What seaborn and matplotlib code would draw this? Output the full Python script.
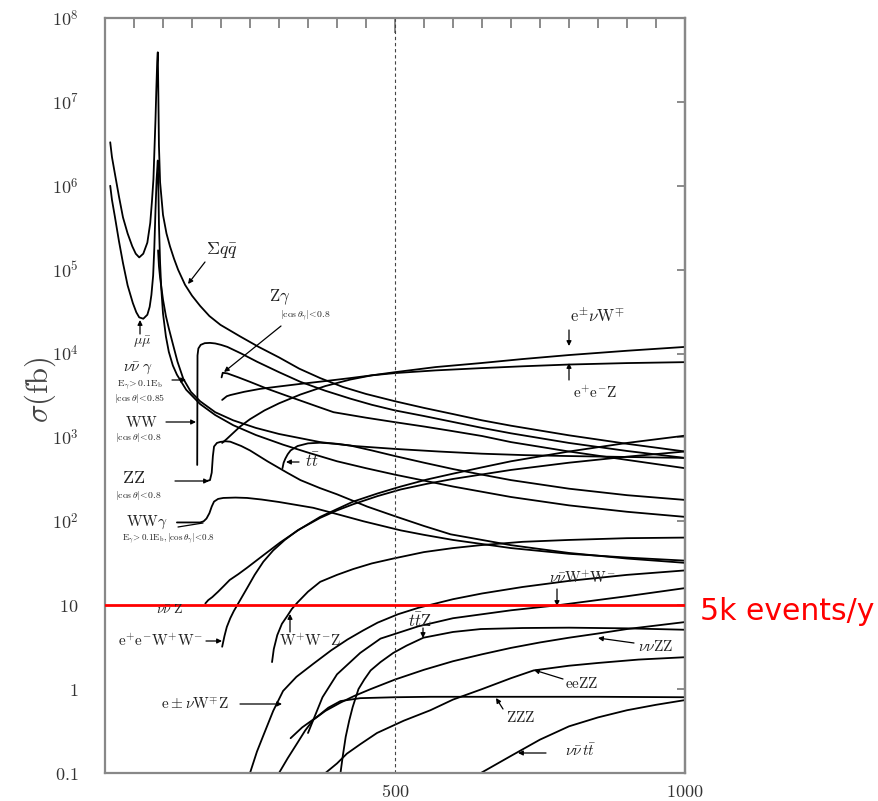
import numpy as np
import pandas as pd
import matplotlib
matplotlib.use("Agg")
import matplotlib.pyplot as plt
from matplotlib.ticker import FixedLocator, MultipleLocator, NullLocator, NullFormatter
import seaborn as sns

sns.set_theme(style="white")
plt.rcParams["font.family"] = ["DejaVu Serif"]
plt.rcParams["mathtext.fontset"] = "cm"

# ---- cross sections: sqrt(s) in GeV, sigma in fb ----
qq_s = [9, 12, 17, 24, 31, 39, 47, 53, 59, 66, 73, 78, 81, 83.5, 85, 87, 88.5, 90, 91, 92, 93, 95, 100, 106, 112, 119, 126, 138, 150, 164, 180, 199, 233, 265, 300, 335, 371, 410, 450, 500, 550, 600, 650, 700, 800, 900, 1000]
qq_sig = [3.3e6, 2.2e6, 1.4e6, 7.5e5, 4.2e5, 2.7e5, 1.9e5, 1.55e5, 1.4e5, 1.55e5, 2.1e5, 3.6e5, 6.6e5, 1.2e6, 2.4e6, 6.0e6, 1.4e7, 3.0e7, 3.9e7, 1.2e7, 3.0e6, 1.1e6, 4.5e5, 2.7e5, 1.9e5, 1.35e5, 1.0e5, 6.6e4, 4.9e4, 3.7e4, 2.8e4, 2.2e4, 1.6e4, 1.2e4, 9.0e3, 6.6e3, 5.1e3, 4.0e3, 3.3e3, 2.7e3, 2.25e3, 1.9e3, 1.6e3, 1.38e3, 1.06e3, 840, 680]

mumu_s = [9, 12, 17, 24, 31, 39, 48, 54, 59, 66, 73, 77, 80, 83, 85, 87, 89, 91, 92, 93, 95, 97, 100, 105, 110, 117, 124, 140, 164, 190, 221, 260, 307, 350, 400, 450, 500, 600, 700, 800, 900, 1000]
mumu_sig = [1.0e6, 6.8e5, 4.3e5, 2.2e5, 1.2e5, 6.5e4, 4.0e4, 3.1e4, 2.7e4, 2.6e4, 2.9e4, 3.6e4, 5.0e4, 8.5e4, 1.8e5, 5.0e5, 1.2e6, 2.0e6, 1.0e6, 3.5e5, 1.2e5, 6.0e4, 3.0e4, 1.6e4, 1.05e4, 7.2e3, 5.6e3, 3.7e3, 2.5e3, 1.85e3, 1.4e3, 1.07e3, 820, 660, 520, 430, 360, 260, 195, 155, 130, 113]

nng_s = [91.5, 93, 95, 100, 105, 110, 117, 125, 135, 148, 164, 190, 221, 260, 300, 371, 430, 500, 575, 650, 725, 800, 900, 1000]
nng_sig = [1.7e5, 1.1e5, 8.0e4, 4.4e4, 2.8e4, 2.0e4, 1.3e4, 8.0e3, 5.0e3, 3.5e3, 2.7e3, 2.0e3, 1.6e3, 1.3e3, 1.1e3, 880, 790, 730, 680, 640, 615, 600, 585, 570]

ww_s = [159, 159.5, 161, 165, 172, 181, 190, 200, 211, 235, 262, 300, 337, 380, 423, 460, 500, 550, 596, 650, 700, 800, 900, 1000]
ww_sig = [470, 9.5e3, 1.15e4, 1.27e4, 1.33e4, 1.34e4, 1.32e4, 1.27e4, 1.2e4, 1.0e4, 8.0e3, 6.0e3, 4.6e3, 3.6e3, 2.9e3, 2.45e3, 2.1e3, 1.8e3, 1.55e3, 1.3e3, 1.12e3, 860, 690, 570]

zg_s = [201, 203, 211, 230, 250, 280, 310, 337, 365, 394, 450, 500, 550, 596, 650, 700, 800, 900, 1000]
zg_sig = [5.2e3, 5.9e3, 5.8e3, 5.2e3, 4.6e3, 3.8e3, 3.2e3, 2.75e3, 2.35e3, 2.0e3, 1.72e3, 1.52e3, 1.35e3, 1.2e3, 1.04e3, 880, 680, 540, 430]

zz_s = [173, 181, 184, 186, 188, 193, 199, 208, 216, 235, 250, 280, 314, 337, 370, 400, 452, 500, 550, 596, 650, 700, 800, 900, 1000]
zz_sig = [300, 310, 380, 600, 780, 860, 885, 900, 890, 790, 700, 520, 380, 310, 250, 210, 150, 115, 88, 70, 60, 52, 42, 36, 32]

tt_s = [306, 308, 311, 315, 320, 332, 350, 371, 400, 423, 460, 500, 550, 600, 650, 700, 800, 900, 1000]
tt_sig = [430, 500, 560, 630, 700, 790, 850, 865, 840, 800, 700, 600, 500, 420, 360, 310, 245, 205, 180]

wwg_s = [124, 164, 170, 175, 180, 184, 188, 195, 204, 225, 245, 270, 300, 359, 400, 446, 510, 550, 600, 700, 800, 900, 1000]
wwg_sig = [97, 97, 100, 108, 125, 150, 172, 185, 190, 192, 190, 182, 170, 145, 122, 100, 78, 69, 60, 48, 41, 37, 34]

enw_s = [202, 210, 216, 233, 250, 275, 300, 337, 380, 423, 460, 500, 570, 648, 720, 800, 900, 1000]
enw_sig = [860, 960, 1.05e3, 1.35e3, 1.65e3, 2.1e3, 2.55e3, 3.25e3, 4.1e3, 4.9e3, 5.5e3, 6.0e3, 6.9e3, 7.7e3, 8.6e3, 9.6e3, 1.08e4, 1.2e4]

eez_s = [202, 210, 216, 240, 268, 300, 337, 380, 423, 460, 500, 570, 648, 720, 800, 900, 1000]
eez_sig = [2.8e3, 3.1e3, 3.2e3, 3.5e3, 3.8e3, 4.05e3, 4.35e3, 4.7e3, 5.1e3, 5.5e3, 5.85e3, 6.3e3, 6.7e3, 7.05e3, 7.4e3, 7.7e3, 7.9e3]

nnz_s = [173, 178, 185, 195, 205, 215, 230, 245, 270, 302, 335, 371, 400, 428, 470, 510, 555, 600, 650, 700, 800, 900, 1000]
nnz_sig = [10.5, 11.5, 12.5, 14.5, 17, 20, 23.5, 28, 38, 56, 80, 113, 140, 172, 215, 260, 315, 370, 440, 520, 680, 860, 1050]

eeww_s = [202, 206, 210, 216, 222, 233, 245, 258, 273, 290, 310, 332, 371, 400, 428, 470, 510, 555, 600, 700, 800, 900, 1000]
eeww_sig = [3.2, 4.3, 5.5, 7.0, 8.5, 11.5, 16, 23, 33, 45, 60, 78, 110, 135, 160, 200, 240, 280, 320, 410, 500, 590, 680]

wwz_s = [288, 291, 297, 305, 314, 322, 332, 350, 371, 400, 428, 460, 497, 550, 600, 648, 720, 800, 900, 1000]
wwz_sig = [2.1, 3.0, 4.4, 6.0, 7.4, 9.0, 10.8, 14.5, 19, 23, 27, 31.5, 36, 43, 48, 52, 57, 60, 63, 64]

nnww_s = [350, 375, 400, 440, 475, 540, 600, 700, 781, 900, 1000]
nnww_sig = [0.3, 0.8, 1.5, 2.7, 4.0, 5.6, 7.0, 8.7, 10, 12.8, 16]

enwz_s = [250, 262, 273, 290, 307, 330, 359, 390, 418, 445, 470, 505, 540, 600, 650, 720, 800, 900, 1000]
enwz_sig = [0.1, 0.18, 0.28, 0.55, 0.95, 1.4, 2.0, 2.9, 3.9, 5.0, 6.2, 7.8, 9.3, 11.8, 13.8, 16.5, 19.5, 23, 26]

ttz_s = [406, 410, 415, 421, 427, 437, 447, 458, 475, 497, 520, 549, 600, 648, 720, 800, 900, 1000]
ttz_sig = [0.1, 0.16, 0.27, 0.42, 0.61, 1.0, 1.3, 1.67, 2.1, 2.7, 3.3, 4.1, 4.8, 5.2, 5.35, 5.4, 5.3, 5.1]

nnzz_s = [300, 315, 332, 345, 359, 380, 406, 430, 458, 500, 550, 600, 650, 700, 750, 800, 850, 900, 1000]
nnzz_sig = [0.1, 0.15, 0.23, 0.32, 0.43, 0.55, 0.69, 0.83, 1.0, 1.3, 1.7, 2.15, 2.6, 3.1, 3.6, 4.1, 4.6, 5.2, 6.3]

eezz_s = [380, 400, 417, 440, 469, 515, 561, 600, 650, 700, 739, 800, 850, 920, 1000]
eezz_sig = [0.1, 0.13, 0.17, 0.22, 0.30, 0.42, 0.56, 0.75, 1.0, 1.35, 1.67, 1.9, 2.05, 2.25, 2.4]

zzz_s = [320, 340, 366, 385, 406, 440, 500, 561, 700, 850, 1000]
zzz_sig = [0.26, 0.35, 0.47, 0.6, 0.72, 0.78, 0.8, 0.81, 0.81, 0.81, 0.8]

nntt_s = [648, 700, 750, 800, 850, 900, 950, 1000]
nntt_sig = [0.1, 0.16, 0.25, 0.36, 0.46, 0.56, 0.65, 0.74]

# rate reference line (10 fb ~ 5k events per year)
events_level = [10]

processes = [
    ("qq", qq_s, qq_sig), ("mumu", mumu_s, mumu_sig), ("nng", nng_s, nng_sig),
    ("ww", ww_s, ww_sig), ("zg", zg_s, zg_sig), ("zz", zz_s, zz_sig),
    ("tt", tt_s, tt_sig), ("wwg", wwg_s, wwg_sig), ("enw", enw_s, enw_sig),
    ("eez", eez_s, eez_sig), ("nnz", nnz_s, nnz_sig), ("eeww", eeww_s, eeww_sig),
    ("wwz", wwz_s, wwz_sig), ("nnww", nnww_s, nnww_sig), ("enwz", enwz_s, enwz_sig),
    ("ttz", ttz_s, ttz_sig), ("nnzz", nnzz_s, nnzz_sig), ("eezz", eezz_s, eezz_sig),
    ("zzz", zzz_s, zzz_sig), ("nntt", nntt_s, nntt_sig),
]
df = pd.concat(
    [pd.DataFrame({"process": n, "sqrt_s": s, "sigma": y}) for n, s, y in processes],
    ignore_index=True,
)

W, H = 879, 801
fig = plt.figure(figsize=(W / 100, H / 100), dpi=100)
ax = fig.add_axes([105 / W, 1 - 773 / H, 580 / W, 755 / H])
ax.set_yscale("log")

sns.lineplot(
    data=df, x="sqrt_s", y="sigma", hue="process",
    palette={n: "black" for n, _, _ in processes},
    estimator=None, sort=False, legend=False, lw=1.3, ax=ax,
)

ax.axhline(events_level[0], color="red", lw=2.0, zorder=5)
ax.axvline(500, color="#444444", lw=0.8, ls=(0, (3, 2.5)))

ax.set_xlim(0, 1000)
ax.set_ylim(0.1, 1e8)
ax.set_xlabel("")
ax.set_ylabel("")

ax.xaxis.set_major_locator(FixedLocator([500, 1000]))
ax.xaxis.set_minor_locator(MultipleLocator(50))
ax.set_xticklabels([r"$500$", r"$1000$"])
yt = [0.1, 1, 10, 1e2, 1e3, 1e4, 1e5, 1e6, 1e7, 1e8]
ax.yaxis.set_major_locator(FixedLocator(yt))
ax.yaxis.set_minor_locator(NullLocator())
ax.set_yticklabels([r"$0.1$", r"$1$", r"$10$"] + [rf"$10^{{{k}}}$" for k in range(2, 9)])
ax.tick_params(which="both", direction="in", top=True, right=False, color="#777777", width=1.2)
ax.tick_params(which="major", length=11, labelsize=13, labelcolor="#333333")
ax.tick_params(which="minor", length=7)
ax.tick_params(axis="y", which="major", pad=19)
ax.tick_params(axis="x", which="major", pad=7)
for sp in ax.spines.values():
    sp.set_color("#888888")
    sp.set_linewidth(1.6)

# short inward ticks along the right frame
rax = ax.secondary_yaxis("right")
rax.yaxis.set_major_locator(FixedLocator(yt))
rax.yaxis.set_minor_locator(NullLocator())
rax.yaxis.set_major_formatter(NullFormatter())
rax.tick_params(direction="in", length=6, width=1.2, color="#777777")
rax.spines["right"].set_color("#888888")
rax.spines["right"].set_linewidth(1.6)

fig.text(40 / W, 1 - 390 / H, r"$\sigma(\mathrm{fb})$", rotation=90, fontsize=22,
         ha="center", va="center", color="#444444")
fig.text(700 / W, 1 - 612 / H, "5k events/y", color="red", fontsize=21.5,
         family="DejaVu Sans", ha="left", va="center")


def P(px, py):
    """pixel position on the canvas -> (sqrt(s), sigma) data position"""
    return ((px - 105) / 580 * 1000, 10 ** (8 - (py - 18) / 755 * 9))


def label(px, py, s, size=11):
    ax.text(*P(px, py), s, fontsize=size, ha="center", va="center", color="#222222", zorder=6)


def arrow(p0, p1, head=True):
    ax.annotate("", xy=P(*p1), xytext=P(*p0),
                arrowprops=dict(arrowstyle="-|>" if head else "-", lw=0.9, color="black",
                                mutation_scale=7, shrinkA=0, shrinkB=0))


label(222, 250, r"$\Sigma q\bar{q}$", 13)
arrow((205, 262), (188, 284))
label(142, 342, r"$\mu\bar{\mu}$", 10)
arrow((140, 334), (140, 320))
label(138, 368, r"$\nu\bar{\nu}\ \gamma$", 11)
label(140, 385, r"$\mathrm{E}_\gamma\!>0.1\mathrm{E}_\mathrm{b}$", 7)
label(140, 398, r"$|\cos\theta|\!<\!0.85$", 7)
arrow((172, 380), (186, 380))
label(142, 422, r"$\mathrm{WW}$", 11)
label(138, 438, r"$|\cos\theta|\!<\!0.8$", 7)
arrow((166, 422), (196, 422))
label(134, 478, r"$\mathrm{ZZ}$", 13)
label(138, 495, r"$|\cos\theta|\!<\!0.8$", 7)
arrow((175, 481), (209, 481))
label(147, 522, r"$\mathrm{WW}\gamma$", 11)
label(168, 538, r"$\mathrm{E}_\gamma\!>0.1\mathrm{E}_\mathrm{b},|\cos\theta_\gamma|\!<\!0.8$", 6.5)
arrow((178, 527), (203, 523), head=False)
label(280, 297, r"$\mathrm{Z}\gamma$", 12)
label(305, 316, r"$|\cos\theta_\gamma|\!<\!0.8$", 7)
arrow((281, 326), (224, 372))
label(312, 462, r"$t\bar{t}$", 12)
arrow((299, 462), (286, 462))
label(597, 316, r"$\mathrm{e}^{\pm}\nu\mathrm{W}^{\mp}$", 12)
arrow((569, 330), (569, 346))
label(595, 393, r"$\mathrm{e}^{+}\mathrm{e}^{-}\mathrm{Z}$", 11)
arrow((569, 380), (569, 363))
label(170, 609, r"$\nu\bar{\nu}\ \mathrm{Z}$", 10)
label(160, 641, r"$\mathrm{e}^{+}\mathrm{e}^{-}\mathrm{W}^{+}\mathrm{W}^{-}$", 11)
arrow((206, 641), (222, 641))
label(310, 641, r"$\mathrm{W}^{+}\mathrm{W}^{-}\mathrm{Z}$", 11)
arrow((290, 632), (290, 614))
label(420, 622, r"$t\bar{t}\mathrm{Z}$", 12)
arrow((423, 628), (423, 638))
label(582, 578, r"$\nu\bar{\nu}\mathrm{W}^{+}\mathrm{W}^{-}$", 11)
arrow((557, 589), (557, 606))
label(655, 646, r"$\nu\nu\mathrm{ZZ}$", 11)
arrow((634, 643), (598, 638))
label(582, 683, r"$\mathrm{eeZZ}$", 11)
arrow((563, 679), (534, 670))
label(521, 718, r"$\mathrm{ZZZ}$", 11)
arrow((503, 709), (496, 698))
label(580, 751, r"$\nu\bar{\nu}\,t\bar{t}$", 11)
arrow((546, 753), (518, 753))
label(195, 704, r"$\mathrm{e}\pm\nu\mathrm{W}^{\mp}\mathrm{Z}$", 11)
arrow((240, 704), (282, 704))

fig.savefig("out.png", dpi=100)
